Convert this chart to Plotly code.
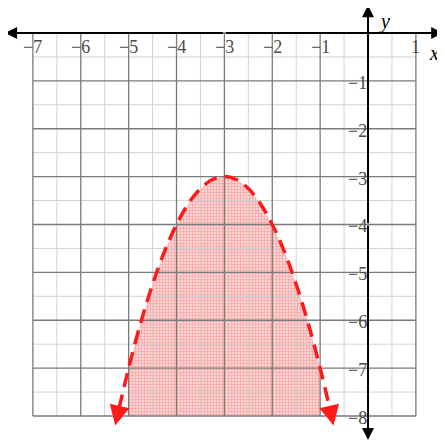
"""Inequality graph: region under a downward parabola."""
import plotly.graph_objects as go

# tick values / labels
x_ticks = [-7, -6, -5, -4, -3, -2, -1, 1]
x_tick_labels = ["\u22127", "\u22126", "\u22125", "\u22124", "\u22123", "\u22122", "\u22121", "1"]
y_ticks = [-1, -2, -3, -4, -5, -6, -7, -8]
y_tick_labels = ["\u22121", "\u22122", "\u22123", "\u22124", "\u22125", "\u22126", "\u22127", "\u22128"]

# grid extent
grid_x = [-7, 1]
grid_y = [-8, 0]

# boundary curve points
curve_x = [-5.2, -5.0, -4.75, -4.5, -4.25, -4.0, -3.75, -3.5, -3.25, -3.0,
           -2.75, -2.5, -2.25, -2.0, -1.75, -1.5, -1.25, -1.0, -0.8]
curve_y = [-7.84, -7.0, -6.06, -5.25, -4.56, -4.0, -3.56, -3.25, -3.06, -3.0,
           -3.06, -3.25, -3.56, -4.0, -4.56, -5.25, -6.06, -7.0, -7.84]
# arrow tips at the ends of the curve
tip_left = (-5.28, -8.2)
tip_right = (-0.72, -8.2)

# shaded part (x from -5 to -1)
shade_x0, shade_x1 = -5.0, -1.0

fig = go.Figure()

# shaded region
fx = [x for x in curve_x if shade_x0 <= x <= shade_x1]
fy = [y for x, y in zip(curve_x, curve_y) if shade_x0 <= x <= shade_x1]
fig.add_trace(go.Scatter(
    x=[shade_x0] + fx + [shade_x1], y=[grid_y[0]] + fy + [grid_y[0]],
    fill="toself", mode="lines", line=dict(width=0),
    fillcolor="#f6b0b0",
    fillpattern=dict(shape="+", size=3, solidity=0.5,
                     fgcolor="#f28888", bgcolor="#fbd3d3"),
    hoverinfo="skip",
))

# grid: minor (half units) and major (integers)
def grid_lines(step_vals):
    xs, ys = [], []
    for v in step_vals:
        if grid_x[0] <= v <= grid_x[1]:
            xs += [v, v, None]
            ys += [grid_y[0], grid_y[1], None]
        if grid_y[0] <= v <= grid_y[1]:
            xs += [grid_x[0], grid_x[1], None]
            ys += [v, v, None]
    return xs, ys

minor_vals = [v / 2 for v in range(-16, 3) if v % 2]
major_vals = list(range(-8, 2))
mx, my = grid_lines(minor_vals)
fig.add_trace(go.Scatter(x=mx, y=my, mode="lines", line=dict(color="#d2d2d2", width=1), hoverinfo="skip"))
Mx, My = grid_lines(major_vals)
fig.add_trace(go.Scatter(x=Mx, y=My, mode="lines", line=dict(color="#7a7a7a", width=1.3), hoverinfo="skip"))

# dashed boundary
fig.add_trace(go.Scatter(
    x=curve_x, y=curve_y, mode="lines", line_shape="spline",
    line=dict(color="#ff1a1a", width=3.5, dash="14px,8px"), hoverinfo="skip",
))

# arrowheads on the curve
for (tx, ty), (sx, sy) in [(tip_left, (curve_x[0], curve_y[0])), (tip_right, (curve_x[-1], curve_y[-1]))]:
    fig.add_annotation(x=tx, y=ty, ax=sx, ay=sy, axref="x", ayref="y", xref="x", yref="y",
                       showarrow=True, arrowhead=2, arrowsize=1.6, arrowwidth=2.5,
                       arrowcolor="#ff1a1a", text="")

# coordinate axes with arrows
for tx, ty in [(-7.58, 0), (1.57, 0)]:
    fig.add_annotation(x=tx, y=ty, ax=-3, ay=0, axref="x", ayref="y",
                       showarrow=True, arrowhead=2, arrowsize=1.2, arrowwidth=2,
                       arrowcolor="black", text="")
for tx, ty in [(0, 0.58), (0, -8.5)]:
    fig.add_annotation(x=tx, y=ty, ax=0, ay=-4, axref="x", ayref="y",
                       showarrow=True, arrowhead=2, arrowsize=1.2, arrowwidth=2,
                       arrowcolor="black", text="")

font = dict(family="Liberation Serif, Times New Roman, serif", size=18, color="#4a4a4a")
for v, t in zip(x_ticks, x_tick_labels):
    fig.add_annotation(x=v, y=0, text=t, showarrow=False, font=font, yanchor="top", yshift=-2)
for v, t in zip(y_ticks, y_tick_labels):
    fig.add_annotation(x=0, y=v, text=t, showarrow=False, font=font, xanchor="right", xshift=1, yshift=-2)

# axis names, placed in paper coords
axis_font = dict(family="Liberation Serif, serif", size=20, color="black")
fig.add_annotation(x=0.975, y=0.897, xref="paper", yref="paper", text="<i>x</i>",
                   xanchor="center", yanchor="middle", showarrow=False, font=axis_font)
fig.add_annotation(x=0.862, y=1.0, xref="paper", yref="paper", text="<i>y</i>",
                   xanchor="center", yanchor="top", showarrow=False, font=axis_font)

# page body has an 8px margin: figure is 437px so the page does not overflow
fig.update_layout(
    width=437, height=437, margin=dict(l=0, r=0, t=0, b=0),
    plot_bgcolor="white", paper_bgcolor="white", showlegend=False,
    xaxis=dict(range=[-7.52, 1.608], visible=False, fixedrange=True),
    yaxis=dict(range=[-8.606, 0.522], visible=False, fixedrange=True),
)

fig.write_html("out.html")
